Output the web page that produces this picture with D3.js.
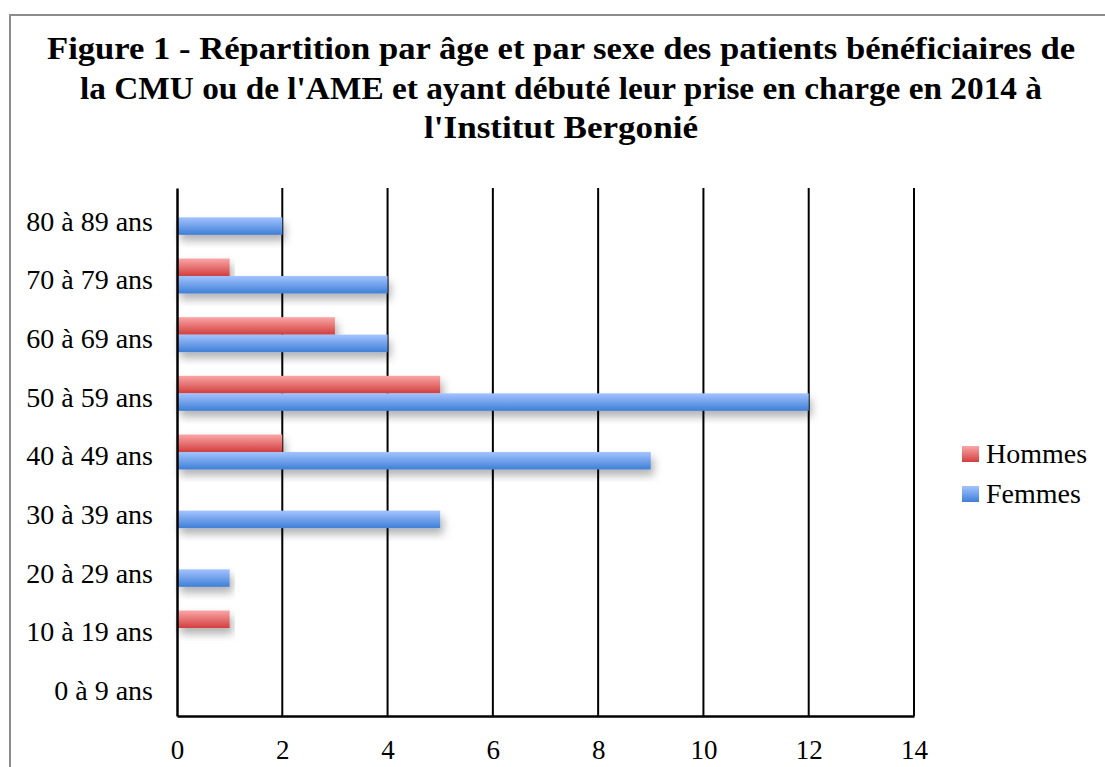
<!DOCTYPE html>
<html>
<head>
<meta charset="utf-8">
<script src="https://cdn.jsdelivr.net/npm/d3@7"></script>
<style>
  body { margin: 0; background: #fff; }
  svg { display: block; }
</style>
</head>
<body>
<div id="chart"></div>
<script>
// données
const categories = ["0 à 9 ans", "10 à 19 ans", "20 à 29 ans", "30 à 39 ans", "40 à 49 ans",
                    "50 à 59 ans", "60 à 69 ans", "70 à 79 ans", "80 à 89 ans"];
const hommes = [0, 1, 0, 0, 2, 5, 3, 1, 0];
const femmes = [0, 0, 1, 5, 9, 12, 4, 4, 2];
const xTicks = [0, 2, 4, 6, 8, 10, 12, 14];
const seriesNames = ["Hommes", "Femmes"];
const titleLines = [
  "Figure 1 - Répartition par âge et par sexe des patients bénéficiaires de",
  "la CMU ou de l'AME et ayant débuté leur prise en charge en 2014 à",
  "l'Institut Bergonié"
];
const titleWidths = [1028, 962, 274];

const W = 1105, H = 767;
const margin = { top: 188, left: 177, right: 1105 - 914, bottom: 767 - 716 };
const width = W - margin.left - margin.right,
      height = H - margin.top - margin.bottom;

const font = "'Liberation Serif', 'DejaVu Serif', serif";

const svg = d3.select("#chart").append("svg")
  .attr("width", W).attr("height", H);

// dégradés + ombre
const defs = svg.append("defs");
function grad(id, top, bottom) {
  const g = defs.append("linearGradient").attr("id", id)
    .attr("x1", 0).attr("y1", 0).attr("x2", 0).attr("y2", 1);
  g.append("stop").attr("offset", "0%").attr("stop-color", top);
  g.append("stop").attr("offset", "100%").attr("stop-color", bottom);
}
grad("gradH", "#fba6a6", "#d23f3f");
grad("gradF", "#a3c3ff", "#3f7fd6");
const f = defs.append("filter").attr("id", "shadow")
  .attr("x", "-5%").attr("y", "-20%").attr("width", "115%").attr("height", "190%");
f.append("feDropShadow").attr("dx", 3).attr("dy", 6).attr("stdDeviation", 4)
  .attr("flood-color", "#000").attr("flood-opacity", 0.3);

// cadre
svg.append("rect")
  .attr("x", 10).attr("y", 15).attr("width", W + 20).attr("height", H + 20)
  .attr("fill", "none").attr("stroke", "#8c8c8c").attr("stroke-width", 2);

// titre
svg.append("text")
  .attr("text-anchor", "middle")
  .attr("font-family", font).attr("font-weight", "bold").attr("font-size", 32)
  .attr("fill", "#000")
  .selectAll("tspan").data(titleLines).enter().append("tspan")
  .attr("x", 561).attr("y", (d, i) => 59 + i * 39.5)
  .attr("textLength", (d, i) => titleWidths[i])
  .attr("lengthAdjust", "spacingAndGlyphs")
  .text(d => d);

const g = svg.append("g").attr("transform", `translate(${margin.left},${margin.top})`);

const x = d3.scaleLinear().domain([0, 14]).range([0, width]);
const y = d3.scaleBand().domain(categories).range([height, 0]);
const inner = d3.scaleBand().domain(seriesNames).range([0, 35]);
const off = (y.bandwidth() - 35) / 2;

// grille verticale
g.selectAll(".grid").data(xTicks.slice(1)).enter().append("line")
  .attr("x1", d => x(d)).attr("x2", d => x(d))
  .attr("y1", 0).attr("y2", height)
  .attr("stroke", "#000").attr("stroke-width", 2);

// barres
const rows = categories.map((c, i) => ({ cat: c, Hommes: hommes[i], Femmes: femmes[i] }));
const fills = { Hommes: "url(#gradH)", Femmes: "url(#gradF)" };
seriesNames.forEach(s => {
  g.selectAll(".bar-" + s).data(rows.filter(r => r[s] > 0)).enter().append("rect")
    .attr("x", 0)
    .attr("y", d => y(d.cat) + off + inner(s))
    .attr("width", d => x(d[s]))
    .attr("height", inner.bandwidth())
    .attr("fill", fills[s])
    .attr("filter", "url(#shadow)");
});

// axes
const xAxis = g.append("g").attr("transform", `translate(0,${height})`)
  .call(d3.axisBottom(x).tickValues(xTicks).tickSize(0).tickPadding(24));
xAxis.select(".domain").attr("stroke", "#000").attr("stroke-width", 2.5);
xAxis.selectAll("text").attr("font-family", font).attr("font-size", 27).attr("fill", "#000");

const yAxis = g.append("g")
  .call(d3.axisLeft(y).tickSize(0).tickPadding(24));
yAxis.select(".domain").attr("stroke", "#000").attr("stroke-width", 2.5);
yAxis.selectAll("text").attr("font-family", font).attr("font-size", 28).attr("fill", "#000")
  .attr("dy", "0.48em");

// légende
const legend = svg.append("g").attr("transform", "translate(962,446)");
seriesNames.forEach((s, i) => {
  const lg = legend.append("g").attr("transform", `translate(0,${i * 40})`);
  lg.append("rect").attr("width", 17).attr("height", 16).attr("fill", fills[s]);
  lg.append("text").attr("x", 24).attr("y", 17)
    .attr("font-family", font).attr("font-size", 28).attr("fill", "#000")
    .text(s);
});
</script>
</body>
</html>
